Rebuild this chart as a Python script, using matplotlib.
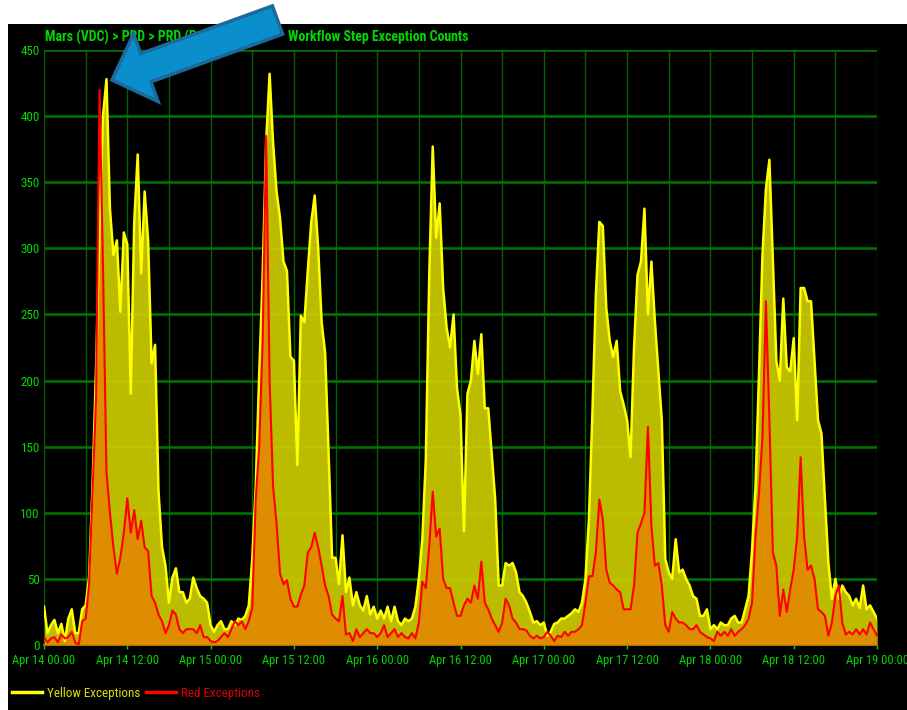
import numpy as np
import pandas as pd
import matplotlib
matplotlib.use("Agg")
import matplotlib.pyplot as plt
import matplotlib.dates as mdates
from matplotlib import font_manager
from matplotlib.patches import Polygon, Rectangle
from matplotlib.lines import Line2D
from matplotlib.transforms import IdentityTransform

fonts = font_manager.fontManager.ttflist
names = {f.name for f in fonts}
FONT, STRETCH, NARROW = 'DejaVu Sans', 'normal', False
for cand in ['Liberation Sans Narrow', 'Arial Narrow', 'Roboto Condensed', 'Open Sans Condensed']:
    if cand in names:
        FONT, NARROW = cand, True
        break
else:
    cond = [f for f in fonts if f.name in ('DejaVu Sans', 'Noto Sans', 'Open Sans', 'Roboto')
            and str(f.stretch) in ('condensed', 'semi-condensed', '75', '87.5', 'semicondensed')]
    if cond:
        FONT, STRETCH, NARROW = cond[0].name, 'condensed', True
plt.rcParams['font.family'] = [FONT, 'DejaVu Sans']
plt.rcParams['font.stretch'] = STRETCH

# exception counts every 30 minutes, Apr 14 00:00 .. Apr 19 00:00
yellow = [
    29, 9, 15, 19, 9, 16, 3, 20, 27, 9, 9, 27,
    30, 51, 122, 210, 315, 400, 428, 330, 295, 306, 252, 312,
    303, 190, 320, 371, 281, 343, 306, 213, 227, 116, 74, 60,
    32, 51, 58, 40, 40, 32, 35, 51, 43, 37, 35, 32,
    15, 10, 15, 18, 12, 12, 18, 15, 20, 19, 22, 30,
    65, 120, 205, 280, 380, 432, 380, 343, 323, 290, 283, 218,
    215, 136, 249, 244, 283, 320, 340, 300, 244, 221, 145, 66,
    66, 46, 83, 40, 51, 30, 40, 30, 26, 37, 23, 29,
    20, 26, 20, 29, 18, 29, 18, 15, 20, 18, 20, 29,
    50, 80, 140, 280, 377, 308, 334, 270, 240, 225, 250, 194,
    174, 86, 190, 200, 230, 205, 235, 179, 179, 144, 110, 45,
    45, 62, 60, 62, 55, 40, 37, 32, 25, 17, 18, 15,
    17, 7, 10, 16, 17, 20, 20, 22, 24, 27, 25, 32,
    50, 95, 175, 265, 320, 317, 255, 230, 218, 230, 192, 182,
    170, 142, 225, 280, 290, 330, 250, 290, 245, 207, 170, 65,
    55, 50, 80, 55, 57, 50, 45, 37, 35, 22, 22, 27,
    12, 15, 12, 17, 15, 15, 20, 22, 17, 17, 27, 37,
    72, 120, 205, 295, 345, 367, 290, 215, 200, 262, 210, 207,
    232, 170, 270, 270, 260, 260, 215, 170, 160, 110, 62, 35,
    50, 35, 45, 40, 37, 30, 35, 28, 45, 27, 30, 25,
    20,
]
red = [
    6, 2, 5, 6, 2, 8, 5, 6, 10, 2, 0, 18,
    20, 46, 116, 187, 420, 286, 131, 100, 74, 54, 66, 85,
    111, 85, 102, 80, 94, 74, 71, 37, 32, 23, 18, 9,
    15, 26, 23, 12, 9, 12, 12, 12, 9, 15, 6, 6,
    3, 2, 3, 6, 9, 6, 12, 18, 15, 18, 12, 18,
    28, 110, 150, 230, 385, 200, 120, 92, 54, 46, 49, 35,
    29, 29, 38, 45, 70, 74, 85, 74, 60, 45, 37, 23,
    20, 18, 37, 8, 9, 3, 12, 6, 9, 12, 9, 9,
    6, 9, 15, 6, 9, 12, 6, 9, 6, 5, 9, 5,
    17, 48, 43, 75, 116, 82, 88, 50, 43, 43, 32, 22,
    22, 30, 35, 32, 45, 35, 63, 32, 27, 20, 15, 10,
    17, 35, 30, 20, 17, 12, 12, 11, 7, 5, 7, 5,
    6, 10, 7, 3, 7, 6, 10, 7, 10, 10, 12, 15,
    32, 52, 52, 70, 110, 95, 57, 47, 45, 42, 40, 27,
    27, 27, 45, 85, 92, 100, 165, 90, 60, 62, 45, 15,
    10, 25, 20, 17, 17, 15, 12, 12, 15, 10, 8, 6,
    5, 3, 10, 7, 10, 7, 12, 7, 10, 12, 15, 20,
    32, 82, 115, 157, 260, 170, 70, 60, 22, 42, 25, 42,
    57, 82, 142, 82, 57, 60, 50, 27, 25, 22, 7, 17,
    37, 45, 17, 8, 10, 8, 12, 8, 12, 8, 17, 12,
    7,
]
times = pd.date_range('2014-04-14 00:00', periods=len(yellow), freq='30min')
title_left = 'Mars (VDC) > PRD > PRD (Prod) >'
title_right = 'Workflow Step Exception Counts'
series_names = ['Yellow Exceptions', 'Red Exceptions']

GREEN = '#00D800'
W, H = 907, 710
fs_tick = 9.0 if NARROW else 8.0
fs_title = 10 if NARROW else 8.8
fs_leg = 9.4 if NARROW else 8.2

fig = plt.figure(figsize=(W / 100, H / 100), dpi=100, facecolor='white')
fig.add_artist(Rectangle((8 / W, 0), 1 - 8 / W, 686 / H, transform=fig.transFigure,
                         facecolor='black', edgecolor='none', zorder=0))

ax = fig.add_axes([44 / W, 1 - 645 / H, 833 / W, 595 / H])
ax.set_facecolor('black')

ax.fill_between(times, yellow, color='#CCCC00', alpha=0.92, lw=0, zorder=2)
ax.fill_between(times, red, color='#E28800', alpha=0.92, lw=0, zorder=3)
ax.plot(times, yellow, color='#FFFF00', lw=1.8, zorder=4)
ax.plot(times, red, color='#FF0000', lw=1.5, zorder=5)

ax.set_xlim(times[0], times[-1])
ax.set_ylim(0, 450)
ax.set_yticks(np.arange(0, 451, 50))
ax.xaxis.set_major_locator(mdates.HourLocator(byhour=[0, 12]))
ax.xaxis.set_minor_locator(mdates.HourLocator(byhour=[6, 18]))
ax.xaxis.set_major_formatter(mdates.DateFormatter('%b %d %H:%M'))

ax.grid(True, axis='y', color='#007800', lw=1.8, zorder=1)
ax.grid(True, axis='x', which='both', color='#006400', lw=1.0, zorder=1)
ax.set_axisbelow(True)

ax.tick_params(axis='both', colors=GREEN, labelsize=fs_tick, length=3, width=1)
ax.tick_params(axis='y', labelsize=fs_tick + 0.4, length=0, pad=3)
ax.tick_params(axis='x', which='minor', length=0)
for s in ['top', 'right']:
    ax.spines[s].set_visible(False)
ax.spines['left'].set_color('#006400')
ax.spines['bottom'].set_color('#7A6A00')
ax.spines['bottom'].set_linewidth(1.5)

fig.text(45 / W, 1 - 37 / H, title_left, color=GREEN, fontsize=fs_title, fontweight='bold',
         va='center', ha='left')
fig.text(468 / W, 1 - 37 / H, title_right, color=GREEN, fontsize=fs_title, fontweight='bold',
         va='center', ha='right')

handles = [Line2D([], [], color='#FFFF00', lw=2.5), Line2D([], [], color='#FF0000', lw=2.5)]
leg = fig.legend(handles, series_names, loc='center left', bbox_to_anchor=(12 / W, 1 - 693 / H),
                 ncol=2, frameon=False, fontsize=fs_leg, handlelength=2.3, handletextpad=0.4,
                 columnspacing=0.4, borderpad=0, borderaxespad=0)
for t, c in zip(leg.get_texts(), ['#E0E000', '#E00000']):
    t.set_color(c)

# callout arrow, built in pixel space (y down), then flipped for display
tip = np.array([112.0, 80.0])
tail = np.array([277.5, 20.0])
u = (tail - tip) / np.linalg.norm(tail - tip)
n = np.array([-u[1], u[0]])
base = tip + u * 36
pts = [tip,
       base + n * 36,
       base + n * 15,
       tail + n * 15,
       tail - n * 15,
       base - n * 15,
       base - n * 36]
pts = np.array([[p[0], H - p[1]] for p in pts])
fig.add_artist(Polygon(pts, closed=True, transform=IdentityTransform(),
                       facecolor='#0A8FCC', edgecolor='#1B6A9C', lw=2.5, zorder=10))

fig.savefig('out.png', dpi=100, facecolor='white')
